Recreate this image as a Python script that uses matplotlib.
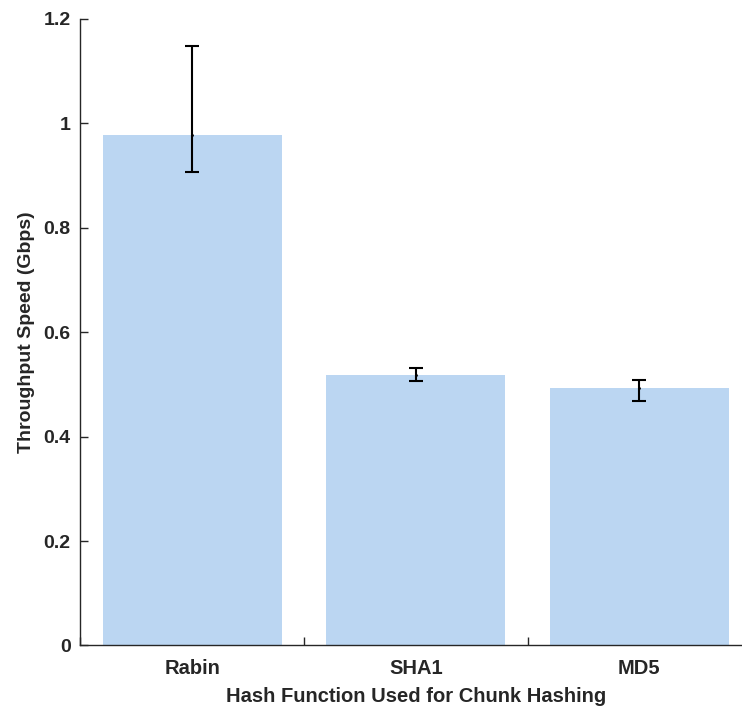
import matplotlib
matplotlib.use("Agg")
import matplotlib.pyplot as plt
import numpy as np

plt.rcParams['font.family'] = ['Liberation Sans', 'DejaVu Sans']
plt.rcParams['font.weight'] = 'bold'

# data
names = ["Rabin", "SHA1", "MD5"]
means = [0.978, 0.519, 0.494]
err_low = [0.907, 0.507, 0.469]
err_high = [1.149, 0.532, 0.509]

x = np.arange(1, len(names) + 1)
lower = np.array(means) - np.array(err_low)
upper = np.array(err_high) - np.array(means)

fig = plt.figure(figsize=(7.42, 7.06), dpi=100)
ax = fig.add_axes([0.1084, 0.0857, 0.9038, 0.8874])

ax.bar(x, means, width=0.8, color="#BBD6F2", edgecolor="none", zorder=1)
ax.errorbar(x, means, yerr=[lower, upper], fmt='.', color='black', markersize=2,
            elinewidth=1.5, capsize=5, capthick=1.5, zorder=3)

ax.set_xlim(0.5, 3.5)
ax.set_ylim(0, 1.2)
ax.set_yticks([0, 0.2, 0.4, 0.6, 0.8, 1.0, 1.2])
ax.set_yticklabels(["0", "0.2", "0.4", "0.6", "0.8", "1", "1.2"])

# ticks sit between bars, labels under bar centres
ax.set_xticks([0.5, 1.5, 2.5, 3.5])
ax.set_xticklabels([])
ax.set_xticks(x, minor=True)
ax.set_xticklabels(names, minor=True)
ax.tick_params(axis='x', which='minor', length=0, pad=10)
ax.tick_params(axis='both', which='major', direction='in', length=6, width=1,
               color='#262626', labelsize=14, labelcolor='#262626')
ax.tick_params(axis='x', which='minor', labelsize=14.5, labelcolor='#262626')
ax.tick_params(axis='y', pad=7)

for s in ['top', 'right']:
    ax.spines[s].set_visible(False)
for s in ['left', 'bottom']:
    ax.spines[s].set_color('#262626')
    ax.spines[s].set_linewidth(1)

ax.set_ylabel("Throughput Speed (Gbps)", fontsize=14, fontweight='bold', color='#262626', labelpad=6)
ax.set_xlabel("Hash Function Used for Chunk Hashing", fontsize=14.5, fontweight='bold', color='#262626', labelpad=6)

fig.savefig("out.png", dpi=100)
